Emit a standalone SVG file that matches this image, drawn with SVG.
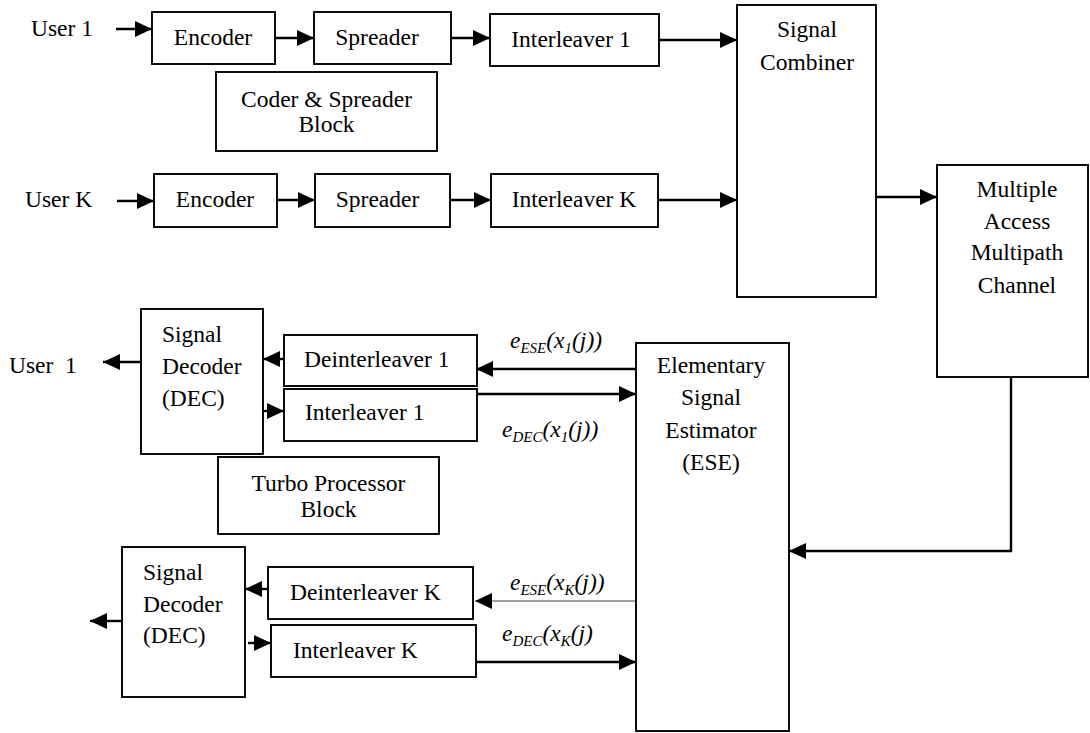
<svg xmlns="http://www.w3.org/2000/svg" width="1090" height="733" viewBox="0 0 1090 733" font-family="'Liberation Serif', 'Times New Roman', Times, 'DejaVu Serif', serif">
<defs>
<style>
text{font-family:'Liberation Serif','Times New Roman',Times,'DejaVu Serif',serif;font-size:23.5px;fill:#000}
.c{text-anchor:middle}
.box{fill:#fff;stroke:#000;stroke-width:1.9}
.ln{fill:none;stroke:#000;stroke-width:2.4}
.thin{fill:none;stroke:#444;stroke-width:1}
.lab{font-style:italic}
.sub{font-size:15px}
.pre{white-space:pre}
</style>
<marker id="ah" markerUnits="userSpaceOnUse" markerWidth="18" markerHeight="17" refX="17" refY="8" orient="auto">
<path d="M0,0 L17,8 L0,16 z" fill="#000"/>
</marker>
</defs>
<rect width="1090" height="733" fill="#fff"/>

<g id="connectors">
<line class="ln" x1="116" y1="29" x2="152" y2="29" marker-end="url(#ah)"/>
<line class="ln" x1="275" y1="38" x2="314" y2="38" marker-end="url(#ah)"/>
<line class="ln" x1="451" y1="38" x2="490" y2="38" marker-end="url(#ah)"/>
<line class="ln" x1="659" y1="40" x2="737" y2="40" marker-end="url(#ah)"/>
<line class="ln" x1="117" y1="201" x2="154" y2="201" marker-end="url(#ah)"/>
<line class="ln" x1="277" y1="200" x2="315" y2="200" marker-end="url(#ah)"/>
<line class="ln" x1="450" y1="200" x2="491" y2="200" marker-end="url(#ah)"/>
<line class="ln" x1="658" y1="200" x2="737" y2="200" marker-end="url(#ah)"/>
<line class="ln" x1="876" y1="197" x2="937" y2="197" marker-end="url(#ah)"/>
<polyline class="ln" points="1011,377 1011,551 789,551" marker-end="url(#ah)"/>
<line class="ln" x1="141" y1="362" x2="103" y2="362" marker-end="url(#ah)"/>
<line class="ln" x1="284" y1="359" x2="263" y2="359" marker-end="url(#ah)"/>
<line class="ln" x1="263" y1="411" x2="284" y2="411" marker-end="url(#ah)"/>
<line class="ln" x1="636" y1="369" x2="476" y2="369" marker-end="url(#ah)"/>
<line class="ln" x1="477" y1="394" x2="636" y2="394" marker-end="url(#ah)"/>
<line class="ln" x1="122" y1="621" x2="90" y2="621" marker-end="url(#ah)"/>
<line class="ln" x1="268" y1="589" x2="245" y2="589" marker-end="url(#ah)"/>
<line class="ln" x1="248" y1="643" x2="271" y2="643" marker-end="url(#ah)"/>
<line class="thin" x1="636" y1="601" x2="475" y2="601" marker-end="url(#ah)"/>
<line class="ln" x1="473" y1="662" x2="636" y2="662" marker-end="url(#ah)"/>
</g>

<g id="user1-in"><text x="31" y="36">User 1</text></g>
<g id="encoder1"><rect class="box" x="152" y="12" width="123" height="52"/><text class="c" x="213" y="45">Encoder</text></g>
<g id="spreader1"><rect class="box" x="314" y="12" width="137" height="52"/><text class="c" x="377" y="45">Spreader</text></g>
<g id="interleaver1"><rect class="box" x="490" y="14" width="169" height="52"/><text class="c" x="571" y="47">Interleaver 1</text></g>
<g id="coder-block"><rect class="box" x="216" y="72" width="221" height="79"/><text class="c" x="326.5" y="107">Coder &amp; Spreader</text><text class="c" x="326.5" y="132">Block</text></g>

<g id="userK-in"><text x="25" y="207">User K</text></g>
<g id="encoderK"><rect class="box" x="154" y="174" width="123" height="53"/><text class="c" x="215" y="207">Encoder</text></g>
<g id="spreaderK"><rect class="box" x="315" y="174" width="135" height="53"/><text class="c" x="377.5" y="207">Spreader</text></g>
<g id="interleaverK"><rect class="box" x="491" y="174" width="167" height="53"/><text class="c" x="574" y="207">Interleaver K</text></g>

<g id="combiner"><rect class="box" x="737" y="5" width="139" height="292"/><text class="c" x="807" y="37">Signal</text><text class="c" x="807" y="70">Combiner</text></g>
<g id="channel"><rect class="box" x="937" y="165" width="151" height="212"/><text class="c" x="1017" y="197">Multiple</text><text class="c" x="1017" y="229">Access</text><text class="c" x="1017" y="260">Multipath</text><text class="c" x="1017" y="293">Channel</text></g>

<g id="ese"><rect class="box" x="636" y="343" width="153" height="388"/><text class="c" x="711" y="373">Elementary</text><text class="c" x="711" y="405">Signal</text><text class="c" x="711" y="438">Estimator</text><text class="c" x="711" y="470">(ESE)</text></g>

<g id="user1-out"><text class="pre" x="9" y="373">User  1</text></g>
<g id="decoder1"><rect class="box" x="141" y="309" width="122" height="145"/><text x="162" y="342">Signal</text><text x="162" y="374">Decoder</text><text x="162" y="406">(DEC)</text></g>
<g id="deinterleaver1"><rect class="box" x="284" y="335" width="193" height="51"/><text x="304" y="367">Deinterleaver 1</text></g>
<g id="interleaver1-dec"><rect class="box" x="284" y="389" width="193" height="52"/><text x="305" y="420">Interleaver 1</text></g>
<g id="turbo-block"><rect class="box" x="218" y="457" width="221" height="77"/><text class="c" x="328.5" y="491">Turbo Processor</text><text class="c" x="328.5" y="517">Block</text></g>

<g id="decoderK"><rect class="box" x="122" y="547" width="123" height="150"/><text x="143" y="580">Signal</text><text x="143" y="612">Decoder</text><text x="143" y="643">(DEC)</text></g>
<g id="deinterleaverK"><rect class="box" x="268" y="567" width="205" height="52"/><text x="290" y="600">Deinterleaver K</text></g>
<g id="interleaverK-dec"><rect class="box" x="271" y="625" width="205" height="52"/><text x="293" y="658">Interleaver K</text></g>

<g id="labels">
<text class="lab" x="510" y="348">e<tspan class="sub" dy="5">ESE</tspan><tspan dy="-5">(x</tspan><tspan class="sub" dy="5">1</tspan><tspan dy="-5">(j))</tspan></text>
<text class="lab" x="502" y="437">e<tspan class="sub" dy="5">DEC</tspan><tspan dy="-5">(x</tspan><tspan class="sub" dy="5">1</tspan><tspan dy="-5">(j))</tspan></text>
<text class="lab" x="510" y="590">e<tspan class="sub" dy="5">ESE</tspan><tspan dy="-5">(x</tspan><tspan class="sub" dy="5">K</tspan><tspan dy="-5">(j))</tspan></text>
<text class="lab" x="502" y="641">e<tspan class="sub" dy="5">DEC</tspan><tspan dy="-5">(x</tspan><tspan class="sub" dy="5">K</tspan><tspan dy="-5">(j)</tspan></text>
</g>
</svg>
